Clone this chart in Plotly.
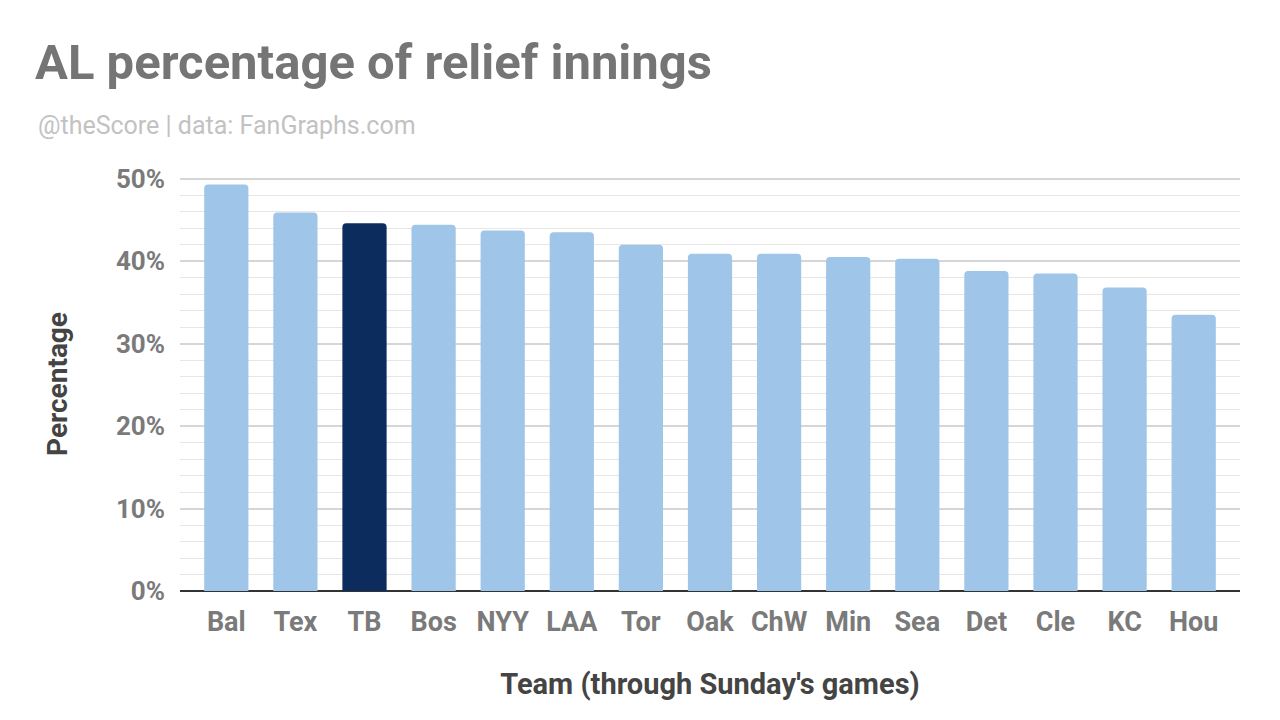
import plotly.graph_objects as go

teams = ["Bal", "Tex", "TB", "Bos", "NYY", "LAA", "Tor", "Oak", "ChW", "Min", "Sea", "Det", "Cle", "KC", "Hou"]
relief_pct = [49.3, 45.9, 44.6, 44.4, 43.7, 43.5, 42.0, 40.9, 40.9, 40.5, 40.3, 38.8, 38.5, 36.8, 33.5]
highlight_team = "TB"

LIGHT = "#9fc5e8"
DARK = "#0b2c5c"
colors = [DARK if t == highlight_team else LIGHT for t in teams]

W, H = 1280, 720
OFF = 8  # page body offset
L, R, T, B = 180 - OFF, 40 + OFF, 177 - OFF, 129 + OFF
PW, PH = W - L - R, H - T - B

fig = go.Figure()
fig.add_trace(go.Bar(
    x=teams, y=relief_pct,
    marker=dict(color=colors, line=dict(width=0), cornerradius=4),
    hoverinfo="x+y",
))

fig.update_layout(
    width=W, height=H,
    margin=dict(l=L, r=R, t=T, b=B),
    paper_bgcolor="white", plot_bgcolor="white",
    font=dict(family="Roboto", color="#777777"),
    bargap=0.36,
    showlegend=False,
    title=dict(
        text="<b>AL percentage of relief innings</b>",
        font=dict(family="Roboto", size=49, color="#757575"),
        xref="container", x=(35 - OFF) / W, xanchor="left",
        yref="container", y=1 - (62 - OFF) / H, yanchor="middle",
    ),
    annotations=[dict(
        text="@theScore | data: FanGraphs.com",
        xref="paper", yref="paper",
        x=(36 - OFF - L) / PW, xanchor="left",
        y=(H - B - (125 - OFF)) / PH, yanchor="middle",
        showarrow=False,
        font=dict(family="Roboto", size=25, color="#c2c2c2"),
    )],
    xaxis=dict(
        range=[-0.67, 14.67],
        showgrid=False, showline=False, zeroline=False,
        ticks="", ticklabelstandoff=12,
        tickfont=dict(family="Roboto", size=27, color="#7a7a7a", weight="bold"),
        title=dict(text="<b>Team (through Sunday's games)</b>",
                   font=dict(family="Roboto", size=29, color="#444444"), standoff=36),
    ),
    yaxis=dict(
        range=[0, 50.2],
        tickvals=[0, 10, 20, 30, 40, 50],
        ticktext=["0%", "10%", "20%", "30%", "40%", "50%"],
        showgrid=True, gridcolor="#d6d6d6", gridwidth=1.5,
        minor=dict(dtick=2, showgrid=True, gridcolor="#e6e6e6", gridwidth=1),
        zeroline=True, zerolinecolor="#333333", zerolinewidth=1.5,
        showline=False, ticks="", ticklabelstandoff=14,
        tickfont=dict(family="Roboto", size=26, color="#7a7a7a", weight="bold"),
        title=dict(text="<b>Percentage</b>",
                   font=dict(family="Roboto", size=28, color="#444444"), standoff=40),
    ),
)

fig.write_html("out.html")
